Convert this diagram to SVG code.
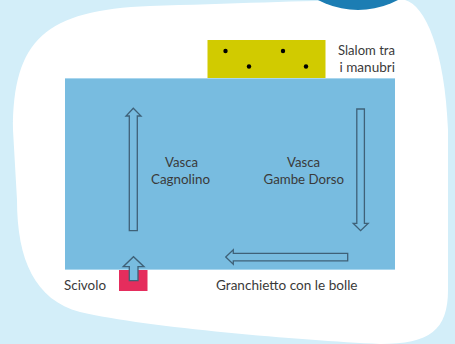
<svg xmlns="http://www.w3.org/2000/svg" width="455" height="344" viewBox="0 0 455 344">
<style>
.t{font-family:Lato,"Open Sans","Liberation Sans",sans-serif;font-size:14px;fill:#3a3a3a}
.arr{fill:#78bce0;stroke:#3f6178;stroke-width:1.3;stroke-linejoin:miter}
</style>
<rect x="0" y="0" width="455" height="344" fill="#d3eef9"/>
<path d="M150,6 C250,3 350,-1 405,0 C425,5 445,50 448,130 L448,290 C448,330 430,344 380,344 C300,340 150,328 80,312 C35,300 17,260 17,200 L13,130 C13,40 45,10 150,6 Z" fill="#ffffff"/>
<circle cx="358" cy="-75" r="85" fill="#1c7db3"/>
<g id="pool">
<rect x="65" y="78" width="330" height="192" fill="#78bce0"/>
<line x1="65" y1="78.5" x2="395" y2="78.5" stroke="#a9d6ee" stroke-width="1"/>
<line x1="65" y1="269.5" x2="395" y2="269.5" stroke="#a9d6ee" stroke-width="1"/>
</g>
<g id="slalom">
<rect x="207.5" y="40" width="118" height="38" fill="#d1cb00"/>
<circle cx="225.5" cy="51" r="2.2" fill="#000"/>
<circle cx="249" cy="66.5" r="2.2" fill="#000"/>
<circle cx="283" cy="51" r="2.2" fill="#000"/>
<circle cx="306" cy="66.5" r="2.2" fill="#000"/>
<text class="t" x="338" y="55" textLength="57" lengthAdjust="spacingAndGlyphs">Slalom tra</text>
<text class="t" x="339.5" y="71.5" textLength="55.5" lengthAdjust="spacingAndGlyphs">i manubri</text>
</g>
<g id="scivolo">
<rect x="119" y="270" width="28.5" height="21" fill="#e52d5d"/>
<text class="t" x="64" y="289.5" textLength="42" lengthAdjust="spacingAndGlyphs">Scivolo</text>
</g>
<g id="vasca-cagnolino">
<text class="t" x="165" y="167" textLength="33" lengthAdjust="spacingAndGlyphs">Vasca</text>
<text class="t" x="151" y="183.5" textLength="59" lengthAdjust="spacingAndGlyphs">Cagnolino</text>
</g>
<g id="vasca-gambe-dorso">
<text class="t" x="287" y="167" textLength="33" lengthAdjust="spacingAndGlyphs">Vasca</text>
<text class="t" x="263.5" y="183.5" textLength="80.5" lengthAdjust="spacingAndGlyphs">Gambe Dorso</text>
</g>
<g id="granchietto">
<text class="t" x="216" y="289.5" textLength="141.5" lengthAdjust="spacingAndGlyphs">Granchietto con le bolle</text>
</g>
<g id="connectors">
<path class="arr" d="M129.3,230.7 L129.3,116 L126,116 L133.3,108.3 L141,116 L137.3,116 L137.3,230.7 Z"/>
<path class="arr" d="M356.8,109 L364.4,109 L364.4,223.3 L368.2,223.3 L360.6,230.7 L353.2,223.3 L356.8,223.3 Z"/>
<path class="arr" d="M347.7,253.3 L347.7,260.8 L233.3,260.8 L233.3,264.3 L225.7,257 L233.3,249.8 L233.3,253.3 Z"/>
<path class="arr" d="M129.3,280.7 L129.3,266.7 L123.2,266.7 L133.5,256.7 L144,266.7 L138,266.7 L138,280.7 Z"/>
</g>
</svg>
